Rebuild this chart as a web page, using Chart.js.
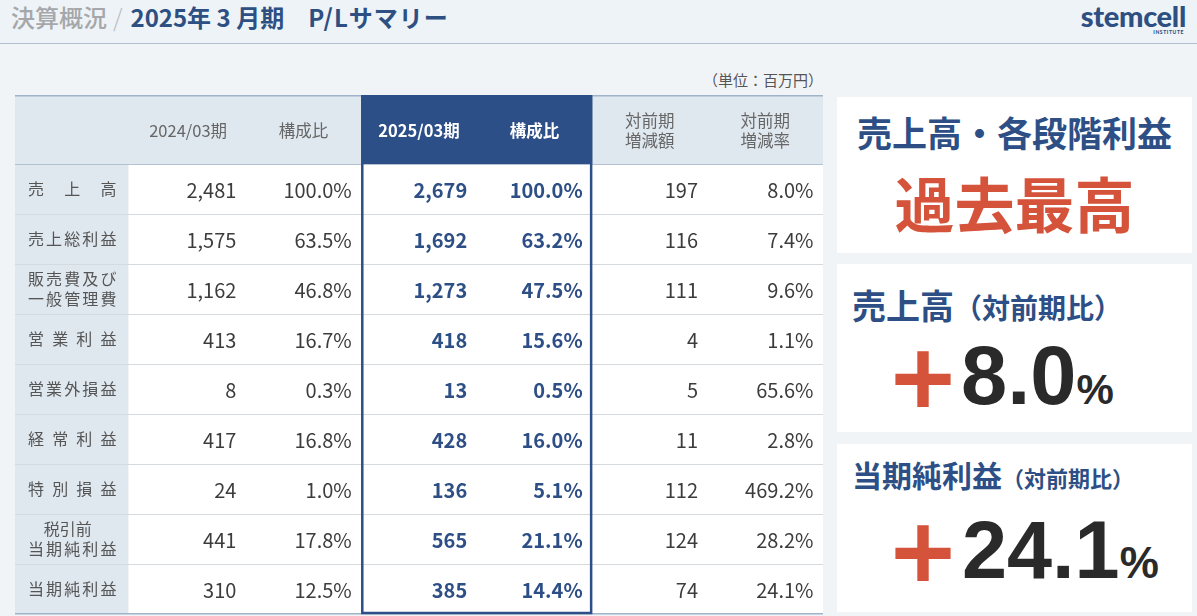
<!DOCTYPE html>
<html lang="ja">
<head>
<meta charset="utf-8">
<script src="https://cdn.jsdelivr.net/npm/chart.js@4.4.1/dist/chart.umd.min.js"></script>
<style>
  body { margin:0; width:1197px; height:616px; background:#f1f4f7; font-family:"Noto Sans CJK JP", sans-serif; position:relative; overflow:hidden; }
  .topbar { position:absolute; left:0; top:0; width:1197px; height:43px; background:#eef3f7; border-bottom:1.5px solid #b0c1d2; }
  .title { position:absolute; left:11px; top:1px; font-size:24px; line-height:32px; white-space:pre; }
  .title .sub { color:#a5a7aa; font-weight:500; }
  .title .sep { color:#b8bcc2; font-weight:300; margin:0 8px 0 6px; }
  .title .main { color:#2d4f81; font-weight:700; }
  .title .pl { letter-spacing:1px; }
  .logo { position:absolute; left:1070px; top:0px; width:116px; text-align:right; color:#2d4f81; }
  .logo .name { font-family:Lato, sans-serif; font-weight:900; font-size:29px; line-height:32px; letter-spacing:-0.3px; }
  .logo .inst { position:absolute; right:2px; top:29px; font-family:Lato, sans-serif; font-weight:900; font-size:5px; letter-spacing:0.6px; }
  .unit { position:absolute; left:680px; top:69px; width:143px; text-align:right; font-size:15px; color:#555; line-height:22px; }
  #wrap { position:absolute; left:15px; top:95px; width:808px; height:520px; }
  .panel { position:absolute; left:837px; width:355px; background:#fff; }
  .navy { color:#2d4f85; font-weight:700; }
  .red { color:#d4533a; font-weight:700; }
  .abs { position:absolute; white-space:nowrap; }
  .plus { color:#d4533a; font-weight:700; -webkit-text-stroke:4px #d4533a; }
  .big { font-family:"Liberation Sans", Arial, sans-serif; font-weight:700; color:#2a2a2a; }
</style>
</head>
<body>
<div class="topbar">
  <div class="title"><span class="sub">決算概況</span><span class="sep">/</span><span class="main">2025年 3 月期　<span class="pl">P/Lサマリー</span></span></div>
  <div class="logo"><div class="name">stemcell</div><div class="inst">INSTITUTE</div></div>
</div>
<div class="unit">（単位：百万円）</div>
<div id="wrap"><canvas id="table"></canvas></div>

<div class="panel" style="top:97px;height:156px;">
  <div class="abs navy" style="left:0;width:355px;text-align:center;top:10px;font-size:35px;line-height:50px;">売上高・各段階利益</div>
  <div class="abs red" style="left:0;width:355px;text-align:center;top:65px;font-size:60px;line-height:80px;">過去最高</div>
</div>
<div class="panel" style="top:264px;height:168px;">
  <div class="abs navy" style="left:15px;top:16px;line-height:50px;"><span style="font-size:34px;">売上高</span><span style="font-size:28px;">（対前期比）</span></div>
  <div class="abs plus" style="left:50px;top:66px;font-size:72px;line-height:90px;">＋</div>
  <div class="abs big" style="left:124px;top:67px;font-size:83px;line-height:90px;" id="salesRate"></div>
</div>
<div class="panel" style="top:444px;height:168px;">
  <div class="abs navy" style="left:15px;top:5px;line-height:50px;"><span style="font-size:30px;">当期純利益</span><span style="font-size:22px;">（対前期比）</span></div>
  <div class="abs plus" style="left:50px;top:60px;font-size:72px;line-height:90px;">＋</div>
  <div class="abs big" style="left:125px;top:61px;font-size:81px;line-height:90px;" id="netRate"></div>
</div>

<script>
// column keys and header texts
const columnKeys = ['label', 'fy2024', 'ratio2024', 'fy2025', 'ratio2025', 'diff', 'rate'];
const headerLabels = ['', '2024/03期', '構成比', '2025/03期', '構成比', '対前期\n増減額', '対前期\n増減率'];
const highlightKeys = ['fy2025', 'ratio2025'];

// row labels (百万円)
const rowLabels = ['売上高', '売上総利益', '販売費及び\n一般管理費', '営業利益', '営業外損益', '経常利益', '特別損益', '税引前\n当期純利益', '当期純利益'];

const fy2024 = [2481, 1575, 1162, 413, 8, 417, 24, 441, 310];
const ratio2024 = [100.0, 63.5, 46.8, 16.7, 0.3, 16.8, 1.0, 17.8, 12.5];
const fy2025 = [2679, 1692, 1273, 418, 13, 428, 136, 565, 385];
const ratio2025 = [100.0, 63.2, 47.5, 15.6, 0.5, 16.0, 5.1, 21.1, 14.4];
const diff = [197, 116, 111, 4, 5, 11, 112, 124, 74];
const rate = [8.0, 7.4, 9.6, 1.1, 65.6, 2.8, 469.2, 28.2, 24.1];

const salesGrowth = 8.0;
const netGrowth = 24.1;

function fmtNum(v) { return v.toLocaleString('en-US'); }
function fmtPct(v) { return v.toFixed(1) + '%'; }

document.getElementById('salesRate').innerHTML = salesGrowth.toFixed(1) + '<span style="font-size:42px;">%</span>';
document.getElementById('netRate').innerHTML = netGrowth.toFixed(1) + '<span style="font-size:44px;">%</span>';

const columns = [
  { key: 'fy2024', values: fy2024, fmt: fmtNum },
  { key: 'ratio2024', values: ratio2024, fmt: fmtPct },
  { key: 'fy2025', values: fy2025, fmt: fmtNum },
  { key: 'ratio2025', values: ratio2025, fmt: fmtPct },
  { key: 'diff', values: diff, fmt: fmtNum },
  { key: 'rate', values: rate, fmt: fmtPct }
];

const datasets = [{
  label: 'label',
  data: rowLabels.map((t) => ({ x: 'label', y: t, text: t }))
}].concat(columns.map((c) => ({
  label: c.key,
  data: c.values.map((v, i) => ({ x: c.key, y: rowLabels[i], text: c.fmt(v) }))
})));

const headH = 69;
const FONT = '"Noto Sans CJK JP", sans-serif';

function cellBox(chart, colIndex) {
  const a = chart.chartArea;
  const w = a.width / columnKeys.length;
  const cx = chart.scales.x.getPixelForValue(colIndex);
  return { left: cx - w / 2, right: cx + w / 2, cx: cx };
}

function drawLabel(ctx, text, left, right, cy) {
  const lines = text.split('\n');
  ctx.font = '400 16px ' + FONT;
  ctx.fillStyle = '#555';
  ctx.textBaseline = 'middle';
  const l = left + 13, r = right - 14;
  lines.forEach((line, li) => {
    const y = cy + (li - (lines.length - 1) / 2) * 20;
    const chars = Array.from(line);
    if (lines.length > 1 && chars.length < 4) {
      ctx.textAlign = 'center';
      ctx.fillText(line, (left + right) / 2 - 5, y);
      return;
    }
    const cw = chars.map((ch) => ctx.measureText(ch).width);
    const total = cw.reduce((s, v) => s + v, 0);
    const gap = chars.length > 1 ? (r - l - total) / (chars.length - 1) : 0;
    let x = l;
    ctx.textAlign = 'left';
    chars.forEach((ch, k) => { ctx.fillText(ch, x, y); x += cw[k] + gap; });
  });
}

const tablePlugin = {
  id: 'plTable',
  beforeDatasetsDraw(chart) {
    const { ctx, chartArea: a } = chart;
    const top = a.top - headH;
    const rowH = a.height / rowLabels.length;
    ctx.save();
    // body + header backgrounds
    ctx.fillStyle = '#ffffff';
    ctx.fillRect(a.left, a.top, a.width, a.height);
    ctx.fillStyle = '#dfe7ef';
    ctx.fillRect(a.left, top, a.width, headH);
    const lab = cellBox(chart, 0);
    ctx.fillRect(lab.left, a.top, lab.right - lab.left - 2, a.height);
    // highlighted header
    const h0 = cellBox(chart, columnKeys.indexOf(highlightKeys[0]));
    const h1 = cellBox(chart, columnKeys.indexOf(highlightKeys[1]));
    ctx.fillStyle = '#2c4f87';
    ctx.fillRect(h0.left, top, h1.right - h0.left, headH);
    // row separators
    ctx.strokeStyle = '#d5dadf';
    ctx.lineWidth = 1;
    for (let i = 1; i < rowLabels.length; i++) {
      const yy = Math.round(a.top + i * rowH) + 0.5;
      ctx.beginPath(); ctx.moveTo(a.left, yy); ctx.lineTo(a.right, yy); ctx.stroke();
    }
    ctx.strokeStyle = '#b2c2d3';
    ctx.beginPath(); ctx.moveTo(a.left, a.top + 0.5); ctx.lineTo(a.right, a.top + 0.5); ctx.stroke();
    ctx.strokeStyle = '#9fb3c9';
    ctx.lineWidth = 1.5;
    ctx.beginPath(); ctx.moveTo(a.left, top + 0.75); ctx.lineTo(a.right, top + 0.75); ctx.stroke();
    ctx.beginPath(); ctx.moveTo(a.left, a.bottom - 0.25); ctx.lineTo(a.right, a.bottom - 0.25); ctx.stroke();
    // highlight border
    ctx.strokeStyle = '#2c4f87';
    ctx.lineWidth = 2.5;
    ctx.strokeRect(h0.left + 1, top + 1, h1.right - h0.left - 2, a.bottom - top - 2);
    ctx.restore();
  },
  afterDatasetsDraw(chart) {
    const { ctx, chartArea: a } = chart;
    const top = a.top - headH;
    ctx.save();
    // header texts
    headerLabels.forEach((t, c) => {
      if (!t) return;
      const box = cellBox(chart, c);
      const hl = highlightKeys.includes(columnKeys[c]);
      ctx.font = (hl ? '700 ' : '400 ') + '16.5px ' + FONT;
      ctx.fillStyle = hl ? '#ffffff' : '#666';
      ctx.textAlign = 'center';
      ctx.textBaseline = 'middle';
      const lines = t.split('\n');
      lines.forEach((line, li) => {
        ctx.fillText(line, box.cx, top + headH / 2 + 1 + (li - (lines.length - 1) / 2) * 20);
      });
    });
    // cells
    chart.data.datasets.forEach((ds, d) => {
      const meta = chart.getDatasetMeta(d);
      const colIndex = columnKeys.indexOf(ds.label);
      const box = cellBox(chart, colIndex);
      const hl = highlightKeys.includes(ds.label);
      meta.data.forEach((el, i) => {
        const txt = ds.data[i].text;
        if (ds.label === 'label') { drawLabel(ctx, txt, box.left, box.right, el.y); return; }
        ctx.font = (hl ? '700 ' : '400 ') + '20px ' + FONT;
        ctx.fillStyle = hl ? '#2d4f85' : '#3c3c3c';
        ctx.textAlign = 'right';
        ctx.textBaseline = 'middle';
        ctx.fillText(txt, box.right - 9.5, el.y + 1);
      });
    });
    ctx.restore();
  }
};

new Chart(document.getElementById('table'), {
  type: 'scatter',
  data: { datasets: datasets },
  options: {
    responsive: true,
    maintainAspectRatio: false,
    animation: false,
    events: [],
    layout: { padding: { top: headH, bottom: 1, left: 0, right: 0 } },
    elements: { point: { radius: 0, hoverRadius: 0 } },
    plugins: { legend: { display: false }, tooltip: { enabled: false } },
    scales: {
      x: { type: 'category', labels: columnKeys, offset: true, display: false },
      y: { type: 'category', labels: rowLabels, offset: true, display: false }
    }
  },
  plugins: [tablePlugin]
});
</script>
</body>
</html>
